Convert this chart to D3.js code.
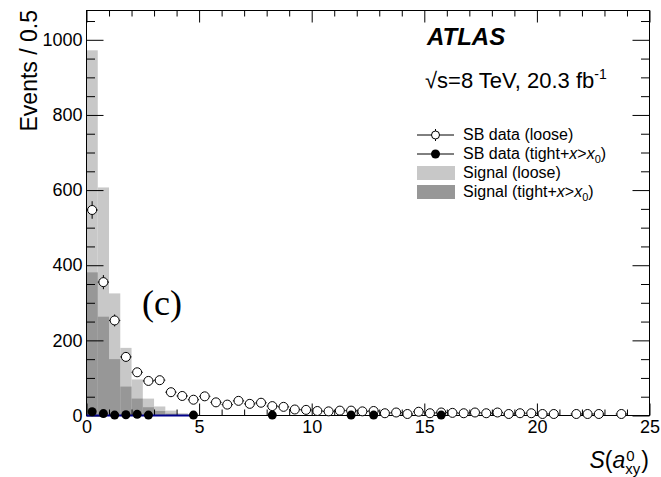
<!DOCTYPE html>
<html>
<head>
<meta charset="utf-8">
<script src="https://cdn.jsdelivr.net/npm/d3@7"></script>
<style>
  body { margin: 0; background: #fff; }
  text { font-family: "Liberation Sans", Arial, Helvetica, sans-serif; }
</style>
</head>
<body>
<script>
// bins are 0.5 wide, starting at 0
var binWidth = 0.5;
var signalLoose = [972, 607, 325, 180, 96, 45, 24, 13, 6, 3];
var signalTight = [381, 263, 150, 77, 45, 22, 12, 5, 2, 1];

var sbLooseX = [0.25, 0.75, 1.25, 1.75, 2.25, 2.75, 3.25, 3.75, 4.25, 4.75,
                5.25, 5.75, 6.25, 6.75, 7.25, 7.75, 8.25, 8.75, 9.25, 9.75,
                10.25, 10.75, 11.25, 11.75, 12.25, 12.75, 13.25, 13.75, 14.25, 14.75,
                15.25, 15.75, 16.25, 16.75, 17.25, 17.75, 18.25, 18.75, 19.25, 19.75,
                20.25, 20.75, 21.75, 22.25, 22.75, 23.75];
var sbLooseY = [547, 355, 253, 156, 115, 92, 94, 62, 52, 42,
                51, 35, 29, 39, 31, 34, 25, 23, 16, 15,
                12, 11, 13, 13, 11, 12, 6, 8, 4, 10,
                6, 8, 7, 6, 8, 6, 8, 4, 6, 6,
                4, 4, 4, 4, 4, 4];

var sbTightX = [0.25, 0.75, 1.25, 1.75, 2.25, 2.75, 4.75, 8.25, 11.75, 12.75, 15.75];
var sbTightY = [10, 5, 1, 2, 3, 1, 1, 1, 1, 1, 1];

var xTicks = [0, 5, 10, 15, 20, 25];
var yTicks = [0, 200, 400, 600, 800, 1000];

var width = 661, height = 477,
    margin = { top: 10.5, right: 11.5, bottom: 61.5, left: 86.5 };

var svg = d3.select("body").append("svg")
    .attr("width", width)
    .attr("height", height);

var x = d3.scaleLinear().domain([0, 25]).range([margin.left, width - margin.right]);
var y = d3.scaleLinear().domain([0, 1078]).range([height - margin.bottom, margin.top]);

var xMinor = d3.range(0, 26).filter(d => d % 5 !== 0);
var yMinor = d3.range(0, 1078, 50).filter(d => d % 200 !== 0);

// signal histograms
svg.append("g").selectAll("rect")
    .data(signalLoose)
    .enter().append("rect")
    .attr("x", (d, i) => x(i * binWidth))
    .attr("y", d => y(d))
    .attr("width", x(binWidth) - x(0))
    .attr("height", d => y(0) - y(d))
    .attr("fill", "#c8c8c8");

svg.append("g").selectAll("rect")
    .data(signalTight)
    .enter().append("rect")
    .attr("x", (d, i) => x(i * binWidth))
    .attr("y", d => y(d))
    .attr("width", x(binWidth) - x(0))
    .attr("height", d => y(0) - y(d))
    .attr("fill", "#979797");

// axes ticks
function noLabels(g) { g.select(".domain").remove(); g.selectAll("text").remove(); }

svg.append("g")
    .attr("transform", `translate(0,${y(0)})`)
    .call(d3.axisBottom(x).tickValues(xTicks).tickSizeInner(-12).tickSizeOuter(0).tickPadding(5).tickFormat(d3.format("d")))
    .call(g => g.select(".domain").remove())
    .call(g => g.selectAll("text").attr("font-size", 18).attr("font-family", "Liberation Sans, Arial").attr("fill", "#000"));
svg.append("g")
    .attr("transform", `translate(0,${y(0)})`)
    .call(d3.axisBottom(x).tickValues(xMinor).tickSizeInner(-6).tickSizeOuter(0))
    .call(noLabels);

svg.append("g")
    .attr("transform", `translate(0,${margin.top})`)
    .call(d3.axisTop(x).tickValues(xTicks).tickSizeInner(-12).tickSizeOuter(0))
    .call(noLabels);
svg.append("g")
    .attr("transform", `translate(0,${margin.top})`)
    .call(d3.axisTop(x).tickValues(xMinor).tickSizeInner(-6).tickSizeOuter(0))
    .call(noLabels);

svg.append("g")
    .attr("transform", `translate(${margin.left},0)`)
    .call(d3.axisLeft(y).tickValues(yTicks).tickSizeInner(-17).tickSizeOuter(0).tickPadding(4).tickFormat(d3.format("d")))
    .call(g => g.select(".domain").remove())
    .call(g => g.selectAll("text").attr("font-size", 18).attr("font-family", "Liberation Sans, Arial").attr("fill", "#000"));
svg.append("g")
    .attr("transform", `translate(${margin.left},0)`)
    .call(d3.axisLeft(y).tickValues(yMinor).tickSizeInner(-8.5).tickSizeOuter(0))
    .call(noLabels);

svg.append("g")
    .attr("transform", `translate(${width - margin.right},0)`)
    .call(d3.axisRight(y).tickValues(yTicks).tickSizeInner(-17).tickSizeOuter(0))
    .call(noLabels);
svg.append("g")
    .attr("transform", `translate(${width - margin.right},0)`)
    .call(d3.axisRight(y).tickValues(yMinor).tickSizeInner(-8.5).tickSizeOuter(0))
    .call(noLabels);

// frame
svg.append("rect")
    .attr("x", margin.left)
    .attr("y", margin.top)
    .attr("width", x(25) - x(0))
    .attr("height", y(0) - y(1078))
    .attr("fill", "none")
    .attr("stroke", "#000");

// blue baseline of tight data
svg.append("line")
    .attr("x1", x(0)).attr("x2", x(4.75))
    .attr("y1", y(0)).attr("y2", y(0))
    .attr("stroke", "#00008b")
    .attr("stroke-width", 2);

// SB data (loose): open circles with error bars
var loose = svg.append("g").selectAll("g")
    .data(sbLooseX.map((d, i) => ({ x: d, y: sbLooseY[i] })))
    .enter().append("g");

loose.append("line")
    .attr("x1", d => x(d.x - binWidth / 2)).attr("x2", d => x(d.x + binWidth / 2))
    .attr("y1", d => y(d.y)).attr("y2", d => y(d.y))
    .attr("stroke", "#000");
loose.append("line")
    .attr("x1", d => x(d.x)).attr("x2", d => x(d.x))
    .attr("y1", d => y(d.y + Math.sqrt(d.y))).attr("y2", d => y(d.y - Math.sqrt(d.y)))
    .attr("stroke", "#000");
loose.append("circle")
    .attr("cx", d => x(d.x))
    .attr("cy", d => y(d.y))
    .attr("r", 4.5)
    .attr("fill", "#fff")
    .attr("stroke", "#000");

// SB data (tight): filled circles
svg.append("g").selectAll("circle")
    .data(sbTightX.map((d, i) => ({ x: d, y: sbTightY[i] })))
    .enter().append("circle")
    .attr("cx", d => x(d.x))
    .attr("cy", d => y(d.y))
    .attr("r", 4.5)
    .attr("fill", "#000");

// labels
svg.append("text")
    .attr("transform", "translate(37,10) rotate(-90)")
    .attr("text-anchor", "end")
    .attr("font-size", 23)
    .text("Events / 0.5");

// x title: S(a^0_xy), laid out left to right then shifted so it ends at the frame edge
var xt = svg.append("g");
var main = xt.append("text").attr("font-size", 23).attr("y", 468);
main.append("tspan").attr("font-style", "italic").text("S");
main.append("tspan").text("(");
main.append("tspan").attr("font-style", "italic").text("a");
var mainW = main.node().getComputedTextLength();
var sup = xt.append("text").attr("x", mainW + 1).attr("y", 461).attr("font-size", 15).text("0");
var sub = xt.append("text").attr("x", mainW).attr("y", 474).attr("font-size", 15).text("xy");
var scriptW = Math.max(sup.node().getComputedTextLength(), sub.node().getComputedTextLength());
var close = xt.append("text").attr("x", mainW + scriptW + 1).attr("y", 468).attr("font-size", 23).text(")");
var totalW = mainW + scriptW + 1 + close.node().getComputedTextLength();
xt.attr("transform", `translate(${649 - totalW},0)`);

svg.append("text")
    .attr("x", 427).attr("y", 45)
    .attr("font-size", 24)
    .attr("font-weight", "bold")
    .attr("font-style", "italic")
    .text("ATLAS");

var lumi = svg.append("text").attr("x", 425).attr("y", 88).attr("font-size", 22);
lumi.append("tspan").text("\u221As=8 TeV, 20.3 fb");
lumi.append("tspan").attr("dy", -9).attr("font-size", 14).text("-1");

svg.append("text")
    .attr("x", 142).attr("y", 315)
    .attr("font-size", 36)
    .style("font-family", "'Liberation Serif', 'Times New Roman', serif")
    .text("(c)");

// legend
var legend = svg.append("g").attr("transform", "translate(417,0)");
var rowY = [135, 154, 173, 192];

legend.append("line").attr("x1", 0).attr("x2", 37).attr("y1", rowY[0]).attr("y2", rowY[0]).attr("stroke", "#000");
legend.append("line").attr("x1", 18.5).attr("x2", 18.5).attr("y1", rowY[0] - 6).attr("y2", rowY[0] + 6).attr("stroke", "#000");
legend.append("circle").attr("cx", 18.5).attr("cy", rowY[0]).attr("r", 4).attr("fill", "#fff").attr("stroke", "#000");

legend.append("line").attr("x1", 0).attr("x2", 37).attr("y1", rowY[1]).attr("y2", rowY[1]).attr("stroke", "#000");
legend.append("circle").attr("cx", 18.5).attr("cy", rowY[1]).attr("r", 4.5).attr("fill", "#000");

legend.append("rect").attr("x", 0).attr("y", rowY[2] - 7).attr("width", 38).attr("height", 14).attr("fill", "#c8c8c8");
legend.append("rect").attr("x", 0).attr("y", rowY[3] - 7).attr("width", 38).attr("height", 14).attr("fill", "#979797");

function legendText(row, parts) {
    var t = legend.append("text").attr("x", 46).attr("y", rowY[row] + 5).attr("font-size", 16);
    parts.forEach(p => {
        var s = t.append("tspan").text(p.t);
        if (p.i) s.attr("font-style", "italic");
        if (p.sub) s.attr("font-size", 11).attr("dy", 4);
        if (p.back) s.attr("dy", -4);
    });
}
legendText(0, [{ t: "SB data (loose)" }]);
legendText(1, [{ t: "SB data (tight+" }, { t: "x", i: 1 }, { t: ">" }, { t: "x", i: 1 }, { t: "0", sub: 1 }, { t: ")", back: 1 }]);
legendText(2, [{ t: "Signal (loose)" }]);
legendText(3, [{ t: "Signal (tight+" }, { t: "x", i: 1 }, { t: ">" }, { t: "x", i: 1 }, { t: "0", sub: 1 }, { t: ")", back: 1 }]);
</script>
</body>
</html>
